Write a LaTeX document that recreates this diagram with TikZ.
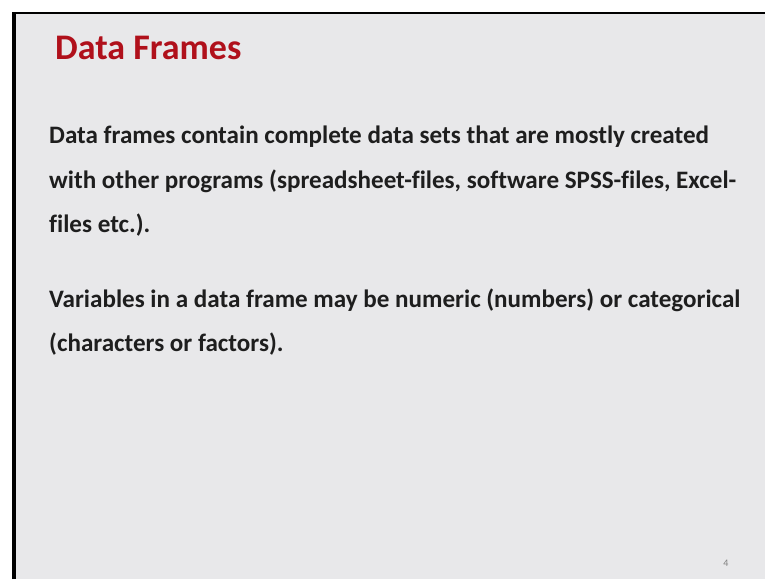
\documentclass[tikz,border=0pt]{standalone}
\usepackage{fontspec}
\setmainfont[Ligatures=CommonOff]{Carlito}
\definecolor{slidegray}{HTML}{E8E8EA}
\definecolor{titlered}{HTML}{B0101B}
\definecolor{bodytext}{HTML}{1E1E1E}

\begin{document}
\begin{tikzpicture}[x=1pt,y=-1pt,
    titletext/.style={anchor=base west,inner sep=0pt,text=titlered,
      font=\fontsize{36}{40}\selectfont\bfseries},
    bodyline/.style={anchor=base west,inner sep=0pt,text=bodytext,
      font=\fontsize{25.1}{30}\selectfont\bfseries}]
            \useasboundingbox (0,0) rectangle (765,579);
            \fill[white] (0,0) rectangle (765,579);
            \fill[slidegray] (14,13) rectangle (765,579);

            % frame edges
            \draw[line width=4.5pt] (14.2,579) -- (14.2,13);
            \draw[line width=2pt] (12,13) -- (765,13);

            \node[titletext] (title) at (55,59) {Data Frames};

            \node[bodyline] (l1) at (49,143) {Data frames contain complete data sets that are mostly created};
            \node[bodyline] (l2) at (49,188) {with other programs (spreadsheet-files, software SPSS-files, Excel-};
            \node[bodyline] (l3) at (49,232.5) {files etc.).};

            \node[bodyline] (l4) at (49,307) {Variables in a data frame may be numeric (numbers) or categorical};
            \node[bodyline] (l5) at (49,351.5) {(characters or factors).};

            \node[anchor=base,inner sep=0pt,text=gray,font=\fontsize{10}{11}\selectfont] (page) at (726,566) {4};
\end{tikzpicture}
\end{document}
